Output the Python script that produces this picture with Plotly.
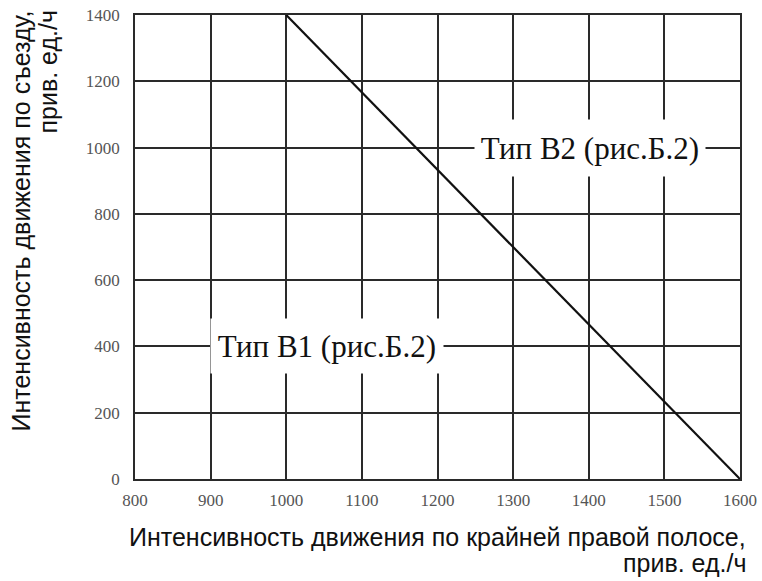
import plotly.graph_objects as go

# Data
boundary_x = [1000, 1600]
boundary_y = [1400, 0]
x_ticks = [800, 900, 1000, 1100, 1200, 1300, 1400, 1500, 1600]
y_ticks = [0, 200, 400, 600, 800, 1000, 1200, 1400]
label_b1 = "Тип В1 (рис.Б.2)"
label_b2 = "Тип В2 (рис.Б.2)"
x_title_lines = ["Интенсивность движения по крайней правой полосе,", "прив. ед./ч"]
y_title_lines = ["Интенсивность движения по съезду,", "прив. ед./ч"]

grid_color = "#2a2a2a"
tick_font = dict(family="Liberation Serif", size=17, color="#555555")
title_font = dict(family="Liberation Sans", size=25, color="#111111")
label_font = dict(family="Liberation Serif", size=31, color="#111111")

fig = go.Figure()
fig.add_trace(go.Scatter(
    x=boundary_x, y=boundary_y, mode="lines",
    line=dict(color="#111111", width=2.2), showlegend=False, hoverinfo="skip",
))

annotations = [
    dict(x=1054, y=400, xref="x", yref="y", text=label_b1, showarrow=False,
         font=label_font, bgcolor="white", width=230, height=52),
    dict(x=1401, y=1000, xref="x", yref="y", text=label_b2, showarrow=False,
         font=label_font, bgcolor="white", width=228, height=54),
]
for line, shift in zip(x_title_lines, [-58, -84]):
    annotations.append(dict(
        x=1, y=0, xref="paper", yref="paper", xanchor="right", yanchor="middle",
        xshift=8, yshift=shift, text=line, showarrow=False, font=title_font))
for line, shift in zip(y_title_lines, [-115, -88]):
    annotations.append(dict(
        x=0, y=1, xref="paper", yref="paper", xanchor="center", yanchor="top",
        xshift=shift, yshift=6, text=line, showarrow=False, textangle=-90,
        font=title_font))

fig.update_layout(
    width=762, height=581,
    margin=dict(l=135, r=22, t=15, b=102, autoexpand=False),
    paper_bgcolor="white", plot_bgcolor="white",
    showlegend=False,
    xaxis=dict(
        range=[800, 1600], tickvals=x_ticks, ticktext=[str(v) for v in x_ticks],
        showgrid=True, gridcolor=grid_color, gridwidth=1.5,
        showline=True, mirror=True, linecolor=grid_color, linewidth=1.5,
        zeroline=False, ticks="", tickfont=tick_font, ticklabelstandoff=5,
        automargin=False, ticklabeloverflow="allow",
    ),
    yaxis=dict(
        range=[0, 1400], tickvals=y_ticks, ticktext=[str(v) for v in y_ticks],
        showgrid=True, gridcolor=grid_color, gridwidth=1.5,
        showline=True, mirror=True, linecolor=grid_color, linewidth=1.5,
        zeroline=False, ticks="", tickfont=tick_font, ticklabelstandoff=10,
        automargin=False, ticklabeloverflow="allow",
    ),
    annotations=annotations,
)

# remove the default 8px page margin so the figure fills the window exactly
fig.write_html("out.html",
               config={"displayModeBar": False},
               post_script="document.body.style.margin='0px';document.body.style.overflow='hidden';")
